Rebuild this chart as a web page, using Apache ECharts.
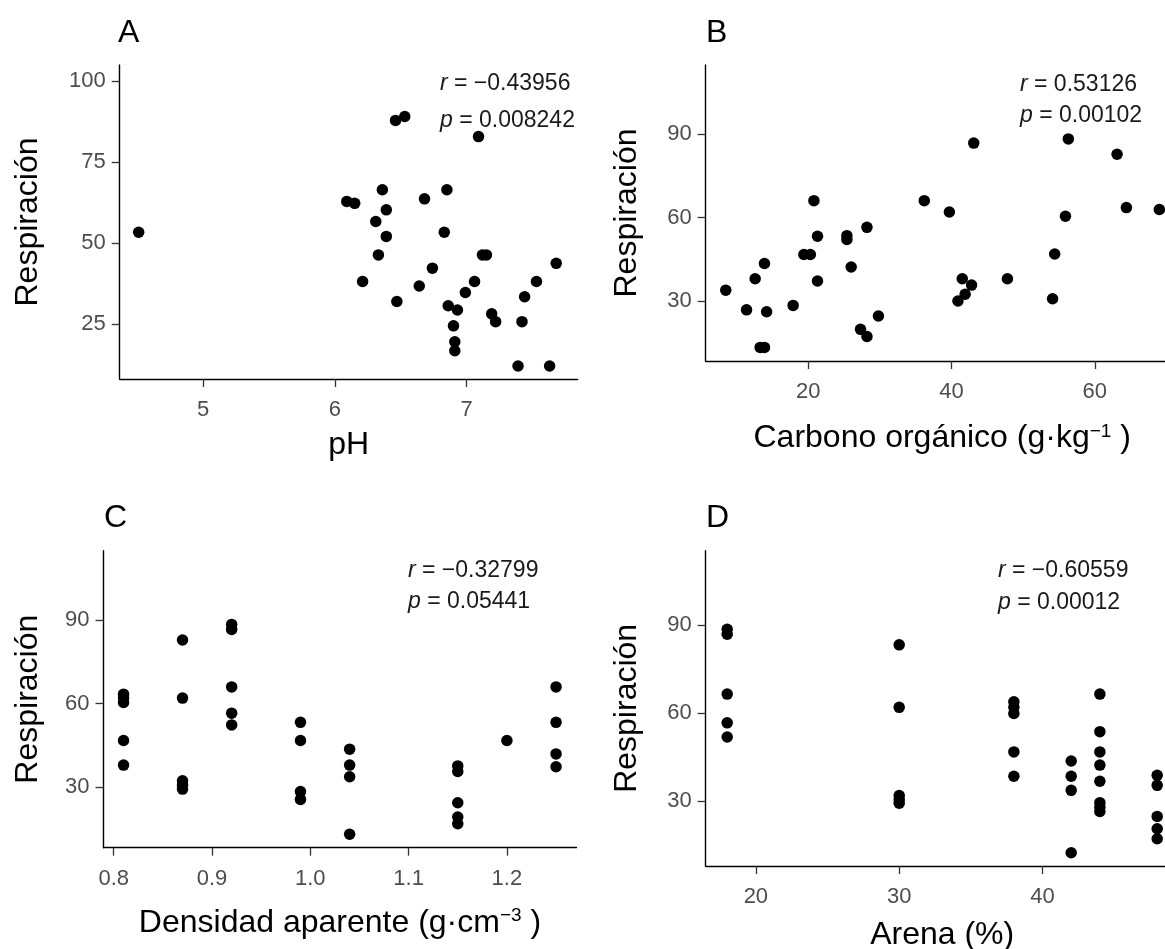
<!DOCTYPE html>
<html>
<head>
<meta charset="utf-8">
<script src="https://cdn.jsdelivr.net/npm/echarts@6/dist/echarts.min.js"></script>
<style>
  html, body { margin: 0; padding: 0; background: #ffffff; }
  #chart { width: 1165px; height: 949px; }
</style>
</head>
<body>
<div id="chart"></div>
<script>
// Panel A: soil respiration vs pH
const phX = [4.51, 6.46, 6.53, 7.09, 6.09, 6.15, 6.36, 6.39, 6.31, 6.39, 6.33, 6.21, 6.47, 6.64, 6.68, 6.74, 6.85, 6.83, 6.86, 6.93, 6.90, 6.91, 6.91, 6.99, 7.06, 7.12, 7.15, 7.19, 7.22, 7.42, 7.44, 7.53, 7.68, 7.39, 7.63];
const phY = [53.3, 87.8, 89.0, 82.8, 62.8, 62.2, 66.4, 60.2, 56.6, 52.0, 46.3, 38.1, 31.9, 36.7, 63.6, 42.2, 66.4, 53.3, 30.6, 29.3, 24.4, 19.5, 16.7, 34.7, 38.1, 46.3, 46.3, 28.1, 25.7, 25.7, 33.4, 38.1, 43.7, 12.0, 12.0];

// Panel B: respiration vs organic carbon (g/kg)
const carbonX = [8.5, 11.4, 12.6, 13.9, 14.2, 13.3, 13.9, 17.9, 19.4, 20.3, 20.8, 21.3, 21.3, 25.4, 25.4, 26.0, 28.2, 27.3, 28.2, 29.8, 36.2, 43.1, 39.7, 41.5, 42.8, 41.9, 40.9, 47.8, 56.3, 55.9, 54.4, 54.1, 63.1, 64.4, 69.0];
const carbonY = [33.9, 26.8, 38.0, 43.5, 26.1, 13.3, 13.3, 28.4, 46.7, 46.7, 66.1, 53.3, 37.2, 53.5, 52.1, 42.2, 56.5, 19.8, 17.2, 24.6, 66.1, 86.8, 62.0, 38.0, 35.7, 32.4, 30.0, 38.0, 88.3, 60.5, 46.9, 30.8, 82.8, 63.6, 62.9];

// Panel C: respiration vs bulk density (g/cm3)
const densityX = [0.81, 0.81, 0.81, 0.81, 0.81, 0.87, 0.87, 0.87, 0.87, 0.87, 0.92, 0.92, 0.92, 0.92, 0.92, 0.99, 0.99, 0.99, 0.99, 1.04, 1.04, 1.04, 1.04, 1.15, 1.15, 1.15, 1.15, 1.15, 1.20, 1.25, 1.25, 1.25, 1.25];
const densityY = [63.4, 62.0, 60.4, 46.8, 38.0, 82.8, 62.0, 32.4, 30.8, 29.4, 88.4, 86.6, 66.0, 56.6, 52.4, 53.3, 46.8, 28.5, 25.7, 43.7, 38.0, 33.8, 13.2, 37.7, 35.7, 24.5, 19.4, 17.0, 46.8, 66.0, 53.3, 42.0, 37.4];

// Panel D: respiration vs sand (%)
const sandX = [18, 18, 18, 18, 18, 30, 30, 30, 30, 30, 38, 38, 38, 38, 38, 42, 42, 42, 42, 44, 44, 44, 44, 44, 44, 44, 44, 48, 48, 48, 48, 48];
const sandY = [88.5, 86.8, 66.4, 56.6, 51.8, 83.2, 61.9, 31.8, 30.4, 29.2, 63.8, 61.9, 59.8, 46.7, 38.4, 43.6, 38.4, 33.6, 12.3, 66.4, 53.6, 46.7, 42.2, 36.7, 29.4, 27.8, 26.4, 38.7, 35.3, 24.7, 20.5, 17.1];

// Tick labels per axis
const phTicks = [5, 6, 7];
const respTicksA = [25, 50, 75, 100];
const carbonTicks = [20, 40, 60];
const densityTicks = [0.8, 0.9, 1.0, 1.1, 1.2];
const sandTicks = [20, 30, 40];
const respTicks = [30, 60, 90];

// Correlation annotations
const panelLetters = ['A', 'B', 'C', 'D'];
const corrR = ['\u22120.43956', '0.53126', '\u22120.32799', '\u22120.60559'];
const corrP = ['0.008242', '0.00102', '0.05441', '0.00012'];

const FONT = "'Liberation Sans', Arial, sans-serif";
const TICK_COLOR = '#4d4d4d';
const TICK_SIZE = 22;
const TITLE_SIZE = 32;
const NOTE_SIZE = 23;

function pairs(xs, ys) { return xs.map((x, i) => [x, ys[i]]); }

function xAxisCfg(gridIndex, min, max, ticks, name, gap, fmt) {
  return {
    type: 'value', gridIndex, min, max,
    name, nameLocation: 'middle', nameGap: gap,
    nameTextStyle: {
      fontFamily: FONT, fontSize: TITLE_SIZE, color: '#000',
      rich: {
        sup: { fontFamily: FONT, fontSize: 19, color: '#000', verticalAlign: 'top', lineHeight: 19, padding: [0, 0, 13, 0] },
        n: { fontFamily: FONT, fontSize: TITLE_SIZE, color: '#000' }
      }
    },
    splitLine: { show: false },
    axisLine: { show: true, onZero: false, lineStyle: { color: '#000', width: 1.4 } },
    axisTick: { show: true, inside: false, length: 8, customValues: ticks, lineStyle: { color: '#333', width: 1.3 } },
    axisLabel: {
      show: true, customValues: ticks, margin: 20,
      fontFamily: FONT, fontSize: TICK_SIZE, color: TICK_COLOR,
      formatter: fmt || (v => String(v))
    }
  };
}

function yAxisCfg(gridIndex, min, max, ticks, gap) {
  return {
    type: 'value', gridIndex, min, max,
    name: 'Respiración', nameLocation: 'middle', nameGap: gap, nameRotate: 90,
    nameTextStyle: { fontFamily: FONT, fontSize: TITLE_SIZE, color: '#000' },
    splitLine: { show: false },
    axisLine: { show: true, onZero: false, lineStyle: { color: '#000', width: 1.4 } },
    axisTick: { show: true, inside: false, length: 8, customValues: ticks, lineStyle: { color: '#333', width: 1.3 } },
    axisLabel: {
      show: true, customValues: ticks, margin: 14,
      fontFamily: FONT, fontSize: TICK_SIZE, color: TICK_COLOR
    }
  };
}

function scatter(i, data) {
  return {
    type: 'scatter', xAxisIndex: i, yAxisIndex: i,
    data, symbol: 'circle', symbolSize: 11.5,
    itemStyle: { color: '#000', opacity: 1 },
    silent: true, animation: false
  };
}

const letterPos = [[118, 17], [706, 17], [104, 502], [706, 502]];
const corrPos = [[440, 65.5], [1020, 69.5], [408, 555.5], [998, 555]];
const corrLine = [37, 31, 31, 32];

const titles = [];
panelLetters.forEach((L, i) => {
  titles.push({
    text: L, left: letterPos[i][0], top: letterPos[i][1], padding: 0,
    textStyle: { fontFamily: FONT, fontSize: 32, fontWeight: 'normal', color: '#000' }
  });
  titles.push({
    text: '{i|r} = ' + corrR[i] + '\n{i|p} = ' + corrP[i],
    left: corrPos[i][0], top: corrPos[i][1], padding: 0,
    textStyle: {
      fontFamily: FONT, fontSize: NOTE_SIZE, fontWeight: 'normal', color: '#1a1a1a', lineHeight: corrLine[i],
      rich: { i: { fontFamily: FONT, fontSize: NOTE_SIZE, fontStyle: 'italic', color: '#1a1a1a', lineHeight: corrLine[i] } }
    }
  });
});

const option = {
  backgroundColor: '#ffffff',
  animation: false,
  title: titles,
  grid: [
    { left: 119.7, top: 65, width: 458, height: 314, outerBoundsMode: 'none' },
    { left: 705.7, top: 65, width: 473, height: 296, outerBoundsMode: 'none' },
    { left: 103.5, top: 550.7, width: 473, height: 297, outerBoundsMode: 'none' },
    { left: 705.7, top: 550.7, width: 473, height: 315.3, outerBoundsMode: 'none' }
  ],
  xAxis: [
    xAxisCfg(0, 4.366, 7.843, phTicks, 'pH', 50),
    xAxisCfg(1, 5.7, 71.7, carbonTicks, '{n|Carbono orgánico (g·kg}{sup|\u22121}{n| )}', 61),
    xAxisCfg(2, 0.7896, 1.2708, densityTicks, '{n|Densidad aparente (g·cm}{sup|\u22123}{n| )}', 59, v => v.toFixed(1)),
    xAxisCfg(3, 16.5, 49.5, sandTicks, 'Arena (%)', 53)
  ],
  yAxis: [
    yAxisCfg(0, 8.0, 104.9, respTicksA, 76),
    yAxisCfg(1, 8.4, 114.9, respTicks, 63),
    yAxisCfg(2, 8.4, 114.8, respTicks, 59),
    yAxisCfg(3, 7.8, 115.3, respTicks, 63)
  ],
  series: [
    scatter(0, pairs(phX, phY)),
    scatter(1, pairs(carbonX, carbonY)),
    scatter(2, pairs(densityX, densityY)),
    scatter(3, pairs(sandX, sandY))
  ]
};

const chart = echarts.init(document.getElementById('chart'), null, { renderer: 'canvas' });
chart.setOption(option);
</script>
</body>
</html>
